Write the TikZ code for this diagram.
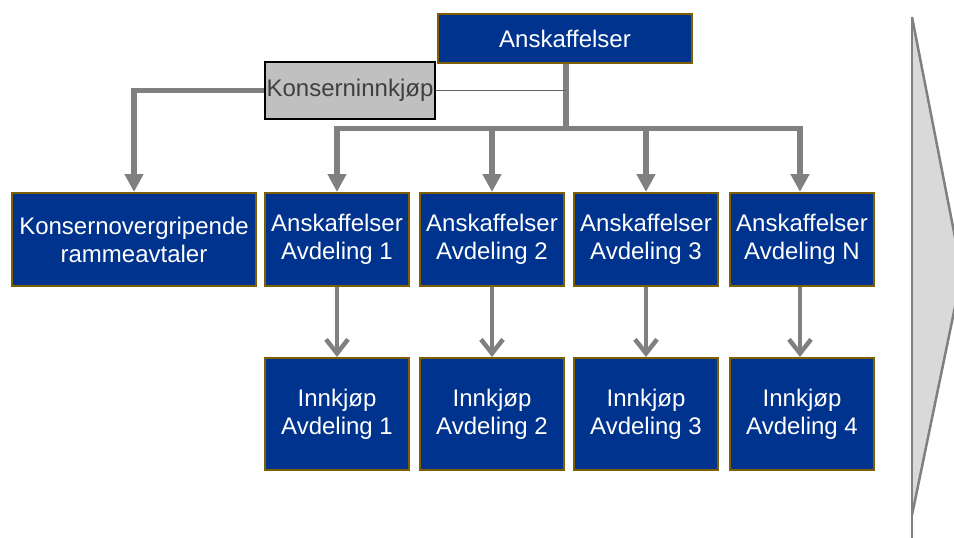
\documentclass[tikz,border=0pt]{standalone}
\usepackage{fontspec}
\setmainfont{Liberation Sans}
\usetikzlibrary{arrows.meta}
\definecolor{unitblue}{RGB}{0,51,141}
\definecolor{unitedge}{RGB}{127,96,0}
\definecolor{linkgray}{RGB}{128,128,128}
\definecolor{groupgray}{RGB}{192,192,192}
\definecolor{chevronfill}{RGB}{217,217,217}
\tikzset{
  unit/.style={draw=unitedge, line width=2pt, fill=unitblue, text=white,
    align=center, inner sep=0pt,
    font=\fontsize{24}{28}\selectfont},
  groupbox/.style={draw=black, line width=1.6pt, fill=groupgray,
    text={rgb,255:red,64;green,64;blue,64}, inner sep=0pt,
    minimum width=170pt, minimum height=57pt,
    font=\fontsize{24}{28}\selectfont},
  trunk/.style={draw=linkgray, line width=5.5pt},
  feed/.style={trunk, -{Triangle[length=18pt,width=18pt]}},
  sub/.style={draw=linkgray, line width=4.5pt,
    -{Straight Barb[length=14pt,width=22pt,line cap=butt]}},
  thinlink/.style={draw={rgb,255:red,100;green,100;blue,100}, line width=1.3pt},
}
\begin{document}
\begin{tikzpicture}[x=1pt,y=-1pt]
\useasboundingbox (0,0) rectangle (954,538);

% process chevron at the right edge
\begin{scope}
  \clip (0,0) rectangle (954,538);
  \fill[chevronfill] (912,17) -- (962,273) -- (912,515) -- cycle;
  \draw[linkgray, line width=2.5pt, line join=miter] (912,17) -- (962,273) -- (912,515);
  \draw[linkgray, line width=2.5pt] (912,17) -- (912,538);
\end{scope}

% top level
\node[unit, minimum width=254pt, minimum height=49pt] (top) at (565,38.5) {Anskaffelser};
\node[groupbox] (group) at (350,90.5) {Konserninnkjøp};

% second level
\node[unit, minimum width=244pt, minimum height=93pt] (frame) at (134,239.5) {Konsernovergripende\\rammeavtaler};
\node[unit, minimum width=144pt, minimum height=93pt] (a1) at (337,239.5) {Anskaffelser\\Avdeling 1};
\node[unit, minimum width=144pt, minimum height=93pt] (a2) at (492,239.5) {Anskaffelser\\Avdeling 2};
\node[unit, minimum width=144pt, minimum height=93pt] (a3) at (646,239.5) {Anskaffelser\\Avdeling 3};
\node[unit, minimum width=144pt, minimum height=93pt] (aN) at (802,239.5) {Anskaffelser\\Avdeling N};

% third level
\node[unit, minimum width=144pt, minimum height=112pt] (i1) at (337,414) {Innkjøp\\Avdeling 1};
\node[unit, minimum width=144pt, minimum height=112pt] (i2) at (492,414) {Innkjøp\\Avdeling 2};
\node[unit, minimum width=144pt, minimum height=112pt] (i3) at (646,414) {Innkjøp\\Avdeling 3};
\node[unit, minimum width=144pt, minimum height=112pt] (i4) at (802,414) {Innkjøp\\Avdeling 4};

% branching point below the top box
\coordinate (bar) at (566,128.5);
\coordinate (barN) at (800,128.5);

\draw[trunk] (top.south -| bar) -- ([yshift=2.5pt]bar);
\draw[thinlink] (group.east) -- (group.east -| bar);
\draw[feed] (group.west) -| (frame.north);
\draw[feed] (bar) -| (a1.north);
\draw[feed] (bar) -| (a2.north);
\draw[feed] (bar) -| (a3.north);
\draw[feed] (bar) -- (barN) -- (barN |- aN.north);

\draw[sub] (a1) -- (i1);
\draw[sub] (a2.south) -- (i2.north);
\draw[sub] (a3.south) -- (i3.north);
\draw[sub] (aN.south -| barN) -- (i4.north -| barN);
\end{tikzpicture}
\end{document}
